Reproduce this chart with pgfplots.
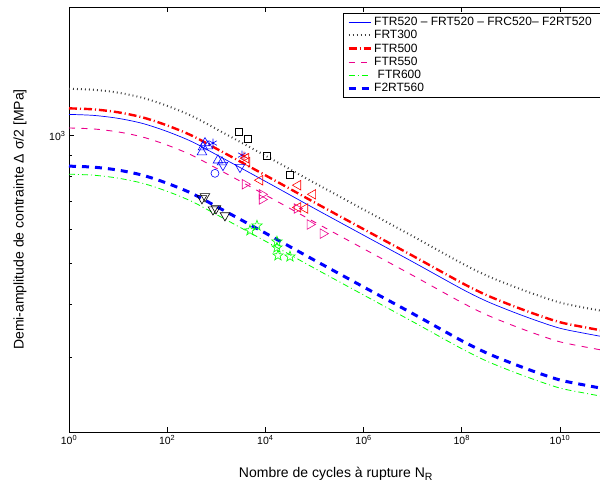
\documentclass[border=0pt]{standalone}
\usepackage{fontspec}
\setmainfont{Liberation Sans}
\usepackage{pgfplots}
\pgfplotsset{compat=1.18}

\pgfdeclareplotmark{pentagram}{%
  \pgfpathmoveto{\pgfpointpolar{90}{\pgfplotmarksize}}%
  \pgfpathlineto{\pgfpointpolar{126}{0.40\pgfplotmarksize}}%
  \pgfpathlineto{\pgfpointpolar{162}{\pgfplotmarksize}}%
  \pgfpathlineto{\pgfpointpolar{198}{0.40\pgfplotmarksize}}%
  \pgfpathlineto{\pgfpointpolar{234}{\pgfplotmarksize}}%
  \pgfpathlineto{\pgfpointpolar{270}{0.40\pgfplotmarksize}}%
  \pgfpathlineto{\pgfpointpolar{306}{\pgfplotmarksize}}%
  \pgfpathlineto{\pgfpointpolar{342}{0.40\pgfplotmarksize}}%
  \pgfpathlineto{\pgfpointpolar{18}{\pgfplotmarksize}}%
  \pgfpathlineto{\pgfpointpolar{54}{0.40\pgfplotmarksize}}%
  \pgfpathclose
  \pgfusepathqstroke
}

\begin{document}
\begin{tikzpicture}
\begin{axis}[
  scale only axis,
  width=540pt, height=425pt,
  xmode=log, ymode=log,
  xmin=1, xmax=1e11, ymin=199.5, ymax=2015,
  axis line style={line width=0.7pt},
  tick style={line width=0.6pt, black},
  tick align=inside,
  major tick length=5pt, minor tick length=3pt,
  xtick={1,1e2,1e4,1e6,1e8,1e10},
  xticklabels={10\textsuperscript{0},10\textsuperscript{2},10\textsuperscript{4},10\textsuperscript{6},10\textsuperscript{8},10\textsuperscript{10}},
  xminorticks=false,
  ytick={1000},
  yticklabels={10\textsuperscript{3}},
  minor ytick={300,400,500,600,700,800,900},
  ticklabel style={font=\fontsize{10.5}{12}\selectfont},
  xlabel={Nombre de cycles à rupture N\raisebox{-0.4ex}{\fontsize{10.5}{11}\selectfont R}},
  ylabel={Demi-amplitude de contrainte Δ σ/2 [MPa]},
  label style={font=\fontsize{14}{16}\selectfont},
  xlabel style={at={(axis description cs:0.494,-0.107)}, anchor=base},
  ylabel style={at={(axis description cs:-0.0907,0.5)}, anchor=center},
  legend style={at={(rel axis cs:0.5074,0.9859)}, anchor=north west, draw=black, fill=white,
    font=\fontsize{12}{13.7}\selectfont, inner xsep=4pt, inner ysep=2pt, row sep=-0.6pt,
    /tikz/every even column/.append style={column sep=4pt}},
  legend cell align=left,
  legend image code/.code={\draw[#1] (0pt,0pt) -- (22pt,0pt);},
]
% FTR520 - FRT520 - FRC520 - F2RT520
\addplot[blue, line width=0.7pt, smooth] coordinates {
(1,1123.1) (3.162,1117.0) (10,1099.3) (31.62,1069.1) (100,1023.3) (316.2,968.7) (1000,902.3)
(1e4,780.3) (1e5,673.2) (1e6,582.1) (1e7,503.6) (1e8,434.5) (3.162e8,406.7) (1e9,385.1)
(3.162e9,366.5) (1e10,350.8) (3.162e10,341.3) (1e11,333.0)};
\addlegendentry{FTR520 – FRT520 – FRC520– F2RT520\rule{24pt}{0pt}}
% FRT300
\addplot[black!75, line width=2pt, dash pattern=on 0.9pt off 3.1pt, smooth] coordinates {
(1,1291.3) (3.162,1284.3) (10,1264.0) (31.62,1229.2) (100,1176.6) (316.2,1113.8) (1000,1037.5)
(1e4,897.2) (1e5,774.0) (1e6,669.3) (1e7,579.0) (1e8,499.6) (3.162e8,467.6) (1e9,442.8)
(3.162e9,421.4) (1e10,403.4) (3.162e10,392.4) (1e11,382.9)};
\addlegendentry{FRT300}
% FTR500
\addplot[red, line width=2.4pt, dash pattern=on 8pt off 3pt on 1pt off 3pt, smooth] coordinates {
(1,1160.6) (3.162,1154.3) (10,1136.0) (31.62,1104.8) (100,1057.5) (316.2,1001.0) (1000,932.4)
(1e4,806.4) (1e5,695.7) (1e6,601.5) (1e7,520.4) (1e8,449.0) (3.162e8,420.3) (1e9,398.0)
(3.162e9,378.7) (1e10,362.5) (3.162e10,352.7) (1e11,344.1)};
\addlegendentry{FTR500}
% FTR550
\addplot[magenta, line width=0.9pt, dash pattern=on 6pt off 6.5pt, smooth] coordinates {
(1,1043.1) (3.162,1037.5) (10,1021.0) (31.62,993.0) (100,950.4) (316.2,899.7) (1000,838.1)
(1e4,724.7) (1e5,625.3) (1e6,540.7) (1e7,467.7) (1e8,403.6) (3.162e8,377.7) (1e9,357.7)
(3.162e9,340.4) (1e10,325.8) (3.162e10,317.0) (1e11,309.3)};
\addlegendentry{FTR550}
% FTR600
\addplot[green, line width=0.8pt, dash pattern=on 6pt off 3pt on 1pt off 3pt, smooth] coordinates {
(1,811.1) (3.162,806.7) (10,793.9) (31.62,772.1) (100,739.0) (316.2,699.6) (1000,651.6)
(1e4,563.5) (1e5,486.2) (1e6,420.4) (1e7,363.7) (1e8,313.8) (3.162e8,293.7) (1e9,278.1)
(3.162e9,264.7) (1e10,253.3) (3.162e10,246.5) (1e11,240.5)};
\addlegendentry{\hspace{3.5pt}FTR600}
% F2RT560
\addplot[blue, line width=3pt, dash pattern=on 7pt off 6pt, smooth] coordinates {
(1,847.4) (3.162,842.8) (10,829.4) (31.62,806.6) (100,772.1) (316.2,730.9) (1000,680.8)
(1e4,588.7) (1e5,507.9) (1e6,439.2) (1e7,380.0) (1e8,327.8) (3.162e8,306.9) (1e9,290.6)
(3.162e9,276.5) (1e10,264.7) (3.162e10,257.5) (1e11,251.2)};
\addlegendentry{F2RT560}

% experimental points
\addplot[forget plot, only marks, blue, mark=triangle, mark size=5.5pt, mark options={line width=0.6pt}] coordinates {
(536,940) (511,915) (589,961) (677,945) (1083,875) (1307,866)};
\addplot[forget plot, only marks, blue, mark=asterisk, mark size=4.5pt, mark options={line width=0.6pt}] coordinates {
(857,961) (3337,900)};
\addplot[forget plot, only marks, blue, mark=o, mark size=4pt, mark options={line width=0.6pt}] coordinates {
(941,815)};
\addplot[forget plot, only marks, blue, mark=triangle, mark size=5.5pt, mark options={line width=0.6pt, rotate=180}] coordinates {
(1368,852) (3040,843)};
\addplot[forget plot, only marks, red, mark=triangle, mark size=5.5pt, mark options={line width=0.6pt, rotate=90}] coordinates {
(4027,885) (4218,866) (7762,785) (46130,764) (93150,727) (64110,673) (46130,677)};
\addplot[forget plot, only marks, red, mark=asterisk, mark size=4.5pt, mark options={line width=0.6pt}] coordinates {
(3664,895)};
\addplot[forget plot, only marks, magenta, mark=triangle, mark size=5.5pt, mark options={line width=0.6pt, rotate=-90}] coordinates {
(3846,768) (8531,727) (8531,707) (44030,673) (80950,617) (148900,587)};
\addplot[forget plot, only marks, black, mark=square, mark size=3.6pt, mark options={line width=0.6pt}] coordinates {
(2899,1020) (4424,982) (10790,895) (31700,807)};
\addplot[forget plot, only marks, black, mark=triangle, mark size=5.5pt, mark options={line width=0.6pt, rotate=180}] coordinates {
(511,711) (589,719) (857,669) (986,673) (1503,648)};
\addplot[forget plot, only marks, green, mark=pentagram, mark size=5.5pt, mark options={line width=0.6pt}] coordinates {
(4856,597) (6745,613) (17230,562) (17230,544) (18060,521) (31700,518)};
\end{axis}
\pgfresetboundingbox
\useasboundingbox (-69pt,-52pt) rectangle (531pt,432pt);
\end{tikzpicture}
\end{document}
